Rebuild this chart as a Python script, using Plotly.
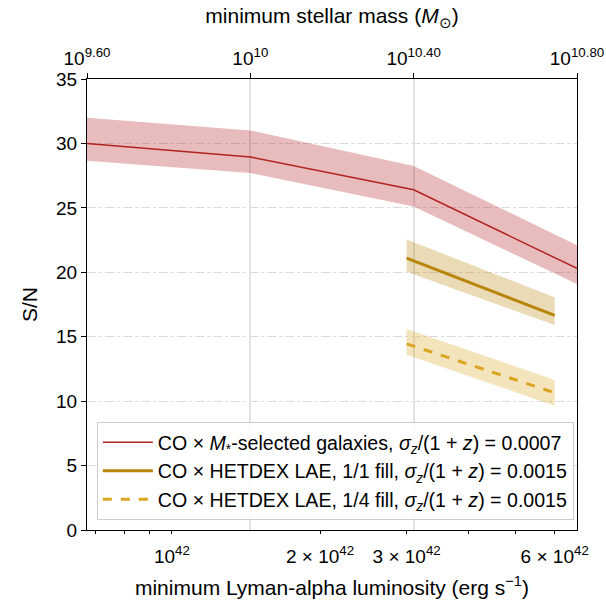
import numpy as np
import plotly.graph_objects as go

# ---- data ----
mass_log = [9.6, 10.0, 10.4, 10.8]               # log10 minimum stellar mass
sn_mass = [30.0, 28.95, 26.4, 20.3]
sn_mass_hi = [32.0, 31.0, 28.25, 22.1]
sn_mass_lo = [28.65, 27.7, 25.1, 19.1]

lya_lum = [3e42, 6e42]                           # minimum Ly-alpha luminosity
sn_full = [21.1, 16.65]
sn_full_hi = [22.55, 18.05]
sn_full_lo = [20.05, 15.9]
sn_quarter = [14.45, 10.65]
sn_quarter_hi = [15.6, 11.65]
sn_quarter_lo = [13.6, 9.65]

bottom_tickvals = [1e42, 2e42, 3e42, 6e42]
bottom_ticktext = ["10<sup>42</sup>", "2 × 10<sup>42</sup>", "3 × 10<sup>42</sup>", "6 × 10<sup>42</sup>"]
bottom_minor = [7e41, 8e41, 9e41, 2e42, 3e42, 4e42, 5e42, 6e42]
top_ticktext = ["10<sup>9.60</sup>", "10<sup>10</sup>", "10<sup>10.40</sup>", "10<sup>10.80</sup>"]
y_ticks = [0, 5, 10, 15, 20, 25, 30, 35]

RED = "rgb(178,34,34)"
RED_F = "rgba(178,34,34,0.3)"
GOLD = "rgb(184,134,11)"
GOLD_F = "rgba(184,134,11,0.3)"
GOLD2 = "rgb(218,165,32)"
GOLD2_F = "rgba(218,165,32,0.3)"

mass = [10 ** m for m in mass_log]

fig = go.Figure()

# gold bands on bottom axis
fig.add_trace(go.Scatter(x=lya_lum, y=sn_full_hi, mode="lines", line=dict(width=0),
                         showlegend=False, hoverinfo="skip", xaxis="x", yaxis="y"))
fig.add_trace(go.Scatter(x=lya_lum, y=sn_full_lo, mode="lines", line=dict(width=0),
                         fill="tonexty", fillcolor=GOLD_F, showlegend=False,
                         hoverinfo="skip", xaxis="x", yaxis="y"))
fig.add_trace(go.Scatter(x=lya_lum, y=sn_quarter_hi, mode="lines", line=dict(width=0),
                         showlegend=False, hoverinfo="skip", xaxis="x", yaxis="y"))
fig.add_trace(go.Scatter(x=lya_lum, y=sn_quarter_lo, mode="lines", line=dict(width=0),
                         fill="tonexty", fillcolor=GOLD2_F, showlegend=False,
                         hoverinfo="skip", xaxis="x", yaxis="y"))

# red band on top axis
fig.add_trace(go.Scatter(x=mass, y=sn_mass_hi, mode="lines", line=dict(width=0),
                         showlegend=False, hoverinfo="skip", xaxis="x2", yaxis="y"))
fig.add_trace(go.Scatter(x=mass, y=sn_mass_lo, mode="lines", line=dict(width=0),
                         fill="tonexty", fillcolor=RED_F, showlegend=False,
                         hoverinfo="skip", xaxis="x2", yaxis="y"))

fig.add_trace(go.Scatter(x=mass, y=sn_mass, mode="lines", line=dict(color=RED, width=1.5),
                         name="CO × <i>M</i><sub>*</sub>-selected galaxies, <i>σ<sub>z</sub></i>/(1 + <i>z</i>) = 0.0007",
                         xaxis="x2", yaxis="y"))
fig.add_trace(go.Scatter(x=lya_lum, y=sn_full, mode="lines", line=dict(color=GOLD, width=3),
                         name="CO × HETDEX LAE, 1/1 fill, <i>σ<sub>z</sub></i>/(1 + <i>z</i>) = 0.0015",
                         xaxis="x", yaxis="y"))
fig.add_trace(go.Scatter(x=lya_lum, y=sn_quarter, mode="lines", line=dict(color=GOLD2, width=3, dash="dash"),
                         name="CO × HETDEX LAE, 1/4 fill, <i>σ<sub>z</sub></i>/(1 + <i>z</i>) = 0.0015",
                         xaxis="x", yaxis="y"))

xr = [np.log10(0.672e42), np.log10(6.66e42)]
FONT = "Liberation Sans, Arial, sans-serif"
GRID = "#dcdcdc"
TICKF = 19
TITLEF = 21

fig.update_layout(
    width=606, height=607,
    margin=dict(l=87, r=29, t=79, b=77, autoexpand=False),
    paper_bgcolor="white", plot_bgcolor="white",
    font=dict(family=FONT, size=TICKF, color="black"),
    showlegend=True,
    xaxis=dict(
        type="log", range=xr, automargin=False,
        tickvals=bottom_tickvals, ticktext=bottom_ticktext,
        ticks="outside", ticklen=3, tickwidth=1, tickcolor="black",
        ticklabelstandoff=6,
        showgrid=False, zeroline=False,
        showline=True, linecolor="black", linewidth=1.3,
        title=dict(text="minimum Lyman-alpha luminosity (erg s<sup>−1</sup>)", standoff=14,
                   font=dict(size=TITLEF)),
        tickfont=dict(size=TICKF),
        minor=dict(tickvals=bottom_minor, ticks="outside", ticklen=3, tickcolor="black", showgrid=False),
    ),
    xaxis3=dict(
        type="log", range=xr, overlaying="x", side="bottom", anchor="y", automargin=False,
        tickvals=[1e42], ticks="outside", ticklen=6, tickwidth=1.2, tickcolor="black",
        showticklabels=False, showgrid=True, gridcolor=GRID, gridwidth=1.3, griddash="dashdot",
        showline=False, zeroline=False,
    ),
    xaxis2=dict(
        type="log", range=[9.6, 10.8], overlaying="x", side="top", anchor="y", automargin=False,
        tickvals=mass, ticktext=top_ticktext,
        ticks="outside", ticklen=5, tickwidth=1, tickcolor="black",
        showgrid=True, gridcolor="#e3e3e3", gridwidth=1.5,
        showline=True, linecolor="black", linewidth=1.3, zeroline=False,
        title=dict(text="minimum stellar mass (<i>M</i><sub>⊙</sub>)", standoff=15,
                   font=dict(size=TITLEF)),
        tickfont=dict(size=TICKF),
    ),
    yaxis=dict(
        range=[0, 35], tickvals=y_ticks, automargin=False,
        ticks="outside", ticklen=5, tickwidth=1, tickcolor="black",
        showgrid=True, gridcolor=GRID, gridwidth=1.3, griddash="dashdot",
        showline=True, linecolor="black", linewidth=1.3, mirror=True, zeroline=False,
        title=dict(text="S/N", standoff=12, font=dict(size=TITLEF)),
        tickfont=dict(size=TICKF),
    ),
    legend=dict(
        x=0.02, y=0.022, xanchor="left", yanchor="bottom", traceorder="normal",
        bgcolor="rgba(255,255,255,0.85)", bordercolor="#cccccc", borderwidth=1,
        font=dict(size=19.6), itemwidth=50, tracegroupgap=0,
    ),
)

fig.write_html("out.html", config={"displayModeBar": False},
               post_script="document.body.style.margin='0';document.body.style.overflow='hidden';")
